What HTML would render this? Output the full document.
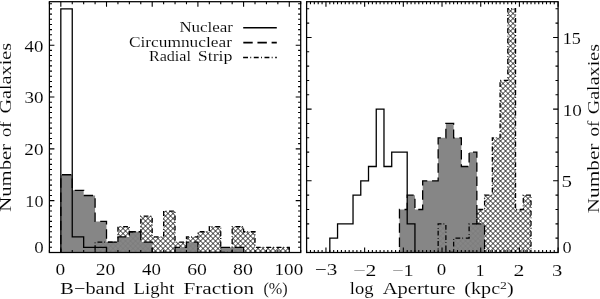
<!DOCTYPE html>
<html><head><meta charset="utf-8"><style>
html,body{margin:0;padding:0;background:#fff;}
body{width:600px;height:299px;overflow:hidden;font-family:"Liberation Serif",serif;}
svg{display:block;}
#w{width:600px;height:299px;will-change:transform;}
</style></head><body>
<div id="w"><svg width="600" height="299" viewBox="0 0 600 299">
<rect width="600" height="299" fill="#fff"/>
<defs>
<clipPath id="cl"><rect x="49.4" y="1.7" width="251.3" height="250.8"/></clipPath>
<clipPath id="cr"><rect x="306.6" y="1.7" width="251.5" height="250.8"/></clipPath>
</defs>
<clipPath id="clR"><path d="M95.09,252.5 L95.09,242.13 L106.51,242.13 L117.94,242.13 L117.94,226.59 L129.36,226.59 L129.36,231.77 L140.78,231.77 L140.78,216.22 L152.2,216.22 L152.2,236.95 L163.63,236.95 L163.63,211.04 L175.05,211.04 L175.05,242.13 L186.47,242.13 L186.47,236.95 L197.9,236.95 L197.9,231.77 L209.32,231.77 L209.32,226.59 L220.74,226.59 L220.74,252.5 L232.16,252.5 L232.16,226.59 L243.59,226.59 L243.59,231.77 L255.01,231.77 L255.01,247.32 L266.43,247.32 L277.85,247.32 L289.28,247.32 L289.28,252.5 Z"/></clipPath>
<g clip-path="url(#cl)"><g clip-path="url(#clR)"><rect x="94.09" y="210.04" width="196.19" height="43.46" fill="#fff"/><path d="M94.09,207.41 L290.28,11.22 M94.09,212.41 L290.28,16.22 M94.09,217.41 L290.28,21.22 M94.09,222.41 L290.28,26.22 M94.09,227.41 L290.28,31.22 M94.09,232.41 L290.28,36.22 M94.09,237.41 L290.28,41.22 M94.09,242.41 L290.28,46.22 M94.09,247.41 L290.28,51.22 M94.09,252.41 L290.28,56.22 M94.09,257.41 L290.28,61.22 M94.09,262.41 L290.28,66.22 M94.09,267.41 L290.28,71.22 M94.09,272.41 L290.28,76.22 M94.09,277.41 L290.28,81.22 M94.09,282.41 L290.28,86.22 M94.09,287.41 L290.28,91.22 M94.09,292.41 L290.28,96.22 M94.09,297.41 L290.28,101.22 M94.09,302.41 L290.28,106.22 M94.09,307.41 L290.28,111.22 M94.09,312.41 L290.28,116.22 M94.09,317.41 L290.28,121.22 M94.09,322.41 L290.28,126.22 M94.09,327.41 L290.28,131.22 M94.09,332.41 L290.28,136.22 M94.09,337.41 L290.28,141.22 M94.09,342.41 L290.28,146.22 M94.09,347.41 L290.28,151.22 M94.09,352.41 L290.28,156.22 M94.09,357.41 L290.28,161.22 M94.09,362.41 L290.28,166.22 M94.09,367.41 L290.28,171.22 M94.09,372.41 L290.28,176.22 M94.09,377.41 L290.28,181.22 M94.09,382.41 L290.28,186.22 M94.09,387.41 L290.28,191.22 M94.09,392.41 L290.28,196.22 M94.09,397.41 L290.28,201.22 M94.09,402.41 L290.28,206.22 M94.09,407.41 L290.28,211.22 M94.09,412.41 L290.28,216.22 M94.09,417.41 L290.28,221.22 M94.09,422.41 L290.28,226.22 M94.09,427.41 L290.28,231.22 M94.09,432.41 L290.28,236.22 M94.09,437.41 L290.28,241.22 M94.09,442.41 L290.28,246.22 M94.09,447.41 L290.28,251.22 M94.09,452.41 L290.28,256.22 M94.09,254.59 L290.28,450.78 M94.09,249.59 L290.28,445.78 M94.09,244.59 L290.28,440.78 M94.09,239.59 L290.28,435.78 M94.09,234.59 L290.28,430.78 M94.09,229.59 L290.28,425.78 M94.09,224.59 L290.28,420.78 M94.09,219.59 L290.28,415.78 M94.09,214.59 L290.28,410.78 M94.09,209.59 L290.28,405.78 M94.09,204.59 L290.28,400.78 M94.09,199.59 L290.28,395.78 M94.09,194.59 L290.28,390.78 M94.09,189.59 L290.28,385.78 M94.09,184.59 L290.28,380.78 M94.09,179.59 L290.28,375.78 M94.09,174.59 L290.28,370.78 M94.09,169.59 L290.28,365.78 M94.09,164.59 L290.28,360.78 M94.09,159.59 L290.28,355.78 M94.09,154.59 L290.28,350.78 M94.09,149.59 L290.28,345.78 M94.09,144.59 L290.28,340.78 M94.09,139.59 L290.28,335.78 M94.09,134.59 L290.28,330.78 M94.09,129.59 L290.28,325.78 M94.09,124.59 L290.28,320.78 M94.09,119.59 L290.28,315.78 M94.09,114.59 L290.28,310.78 M94.09,109.59 L290.28,305.78 M94.09,104.59 L290.28,300.78 M94.09,99.59 L290.28,295.78 M94.09,94.59 L290.28,290.78 M94.09,89.59 L290.28,285.78 M94.09,84.59 L290.28,280.78 M94.09,79.59 L290.28,275.78 M94.09,74.59 L290.28,270.78 M94.09,69.59 L290.28,265.78 M94.09,64.59 L290.28,260.78 M94.09,59.59 L290.28,255.78 M94.09,54.59 L290.28,250.78 M94.09,49.59 L290.28,245.78 M94.09,44.59 L290.28,240.78 M94.09,39.59 L290.28,235.78 M94.09,34.59 L290.28,230.78 M94.09,29.59 L290.28,225.78 M94.09,24.59 L290.28,220.78 M94.09,19.59 L290.28,215.78 M94.09,14.59 L290.28,210.78 M94.09,9.59 L290.28,205.78" stroke="#000" stroke-width="0.85" fill="none"/></g></g>
<clipPath id="crR"><path d="M438.15,252.5 L438.15,223.83 L445.89,223.83 L445.89,252.5 L453.63,252.5 L453.63,238.16 L461.37,238.16 L469.11,238.16 L469.11,223.83 L476.85,223.83 L476.85,209.49 L484.58,209.49 L484.58,195.15 L492.32,195.15 L492.32,137.8 L500.06,137.8 L500.06,80.46 L507.8,80.46 L507.8,8.77 L515.54,8.77 L515.54,209.49 L523.28,209.49 L523.28,195.15 L531.02,195.15 L531.02,252.5 Z"/></clipPath>
<g clip-path="url(#cr)"><g clip-path="url(#crR)"><rect x="437.15" y="7.77" width="94.86" height="245.73" fill="#fff"/><path d="M437.15,4.35 L532.02,-90.52 M437.15,9.35 L532.02,-85.52 M437.15,14.35 L532.02,-80.52 M437.15,19.35 L532.02,-75.52 M437.15,24.35 L532.02,-70.52 M437.15,29.35 L532.02,-65.52 M437.15,34.35 L532.02,-60.52 M437.15,39.35 L532.02,-55.52 M437.15,44.35 L532.02,-50.52 M437.15,49.35 L532.02,-45.52 M437.15,54.35 L532.02,-40.52 M437.15,59.35 L532.02,-35.52 M437.15,64.35 L532.02,-30.52 M437.15,69.35 L532.02,-25.52 M437.15,74.35 L532.02,-20.52 M437.15,79.35 L532.02,-15.52 M437.15,84.35 L532.02,-10.52 M437.15,89.35 L532.02,-5.52 M437.15,94.35 L532.02,-0.52 M437.15,99.35 L532.02,4.48 M437.15,104.35 L532.02,9.48 M437.15,109.35 L532.02,14.48 M437.15,114.35 L532.02,19.48 M437.15,119.35 L532.02,24.48 M437.15,124.35 L532.02,29.48 M437.15,129.35 L532.02,34.48 M437.15,134.35 L532.02,39.48 M437.15,139.35 L532.02,44.48 M437.15,144.35 L532.02,49.48 M437.15,149.35 L532.02,54.48 M437.15,154.35 L532.02,59.48 M437.15,159.35 L532.02,64.48 M437.15,164.35 L532.02,69.48 M437.15,169.35 L532.02,74.48 M437.15,174.35 L532.02,79.48 M437.15,179.35 L532.02,84.48 M437.15,184.35 L532.02,89.48 M437.15,189.35 L532.02,94.48 M437.15,194.35 L532.02,99.48 M437.15,199.35 L532.02,104.48 M437.15,204.35 L532.02,109.48 M437.15,209.35 L532.02,114.48 M437.15,214.35 L532.02,119.48 M437.15,219.35 L532.02,124.48 M437.15,224.35 L532.02,129.48 M437.15,229.35 L532.02,134.48 M437.15,234.35 L532.02,139.48 M437.15,239.35 L532.02,144.48 M437.15,244.35 L532.02,149.48 M437.15,249.35 L532.02,154.48 M437.15,254.35 L532.02,159.48 M437.15,259.35 L532.02,164.48 M437.15,264.35 L532.02,169.48 M437.15,269.35 L532.02,174.48 M437.15,274.35 L532.02,179.48 M437.15,279.35 L532.02,184.48 M437.15,284.35 L532.02,189.48 M437.15,289.35 L532.02,194.48 M437.15,294.35 L532.02,199.48 M437.15,299.35 L532.02,204.48 M437.15,304.35 L532.02,209.48 M437.15,309.35 L532.02,214.48 M437.15,314.35 L532.02,219.48 M437.15,319.35 L532.02,224.48 M437.15,324.35 L532.02,229.48 M437.15,329.35 L532.02,234.48 M437.15,334.35 L532.02,239.48 M437.15,339.35 L532.02,244.48 M437.15,344.35 L532.02,249.48 M437.15,349.35 L532.02,254.48 M437.15,257.65 L532.02,352.52 M437.15,252.65 L532.02,347.52 M437.15,247.65 L532.02,342.52 M437.15,242.65 L532.02,337.52 M437.15,237.65 L532.02,332.52 M437.15,232.65 L532.02,327.52 M437.15,227.65 L532.02,322.52 M437.15,222.65 L532.02,317.52 M437.15,217.65 L532.02,312.52 M437.15,212.65 L532.02,307.52 M437.15,207.65 L532.02,302.52 M437.15,202.65 L532.02,297.52 M437.15,197.65 L532.02,292.52 M437.15,192.65 L532.02,287.52 M437.15,187.65 L532.02,282.52 M437.15,182.65 L532.02,277.52 M437.15,177.65 L532.02,272.52 M437.15,172.65 L532.02,267.52 M437.15,167.65 L532.02,262.52 M437.15,162.65 L532.02,257.52 M437.15,157.65 L532.02,252.52 M437.15,152.65 L532.02,247.52 M437.15,147.65 L532.02,242.52 M437.15,142.65 L532.02,237.52 M437.15,137.65 L532.02,232.52 M437.15,132.65 L532.02,227.52 M437.15,127.65 L532.02,222.52 M437.15,122.65 L532.02,217.52 M437.15,117.65 L532.02,212.52 M437.15,112.65 L532.02,207.52 M437.15,107.65 L532.02,202.52 M437.15,102.65 L532.02,197.52 M437.15,97.65 L532.02,192.52 M437.15,92.65 L532.02,187.52 M437.15,87.65 L532.02,182.52 M437.15,82.65 L532.02,177.52 M437.15,77.65 L532.02,172.52 M437.15,72.65 L532.02,167.52 M437.15,67.65 L532.02,162.52 M437.15,62.65 L532.02,157.52 M437.15,57.65 L532.02,152.52 M437.15,52.65 L532.02,147.52 M437.15,47.65 L532.02,142.52 M437.15,42.65 L532.02,137.52 M437.15,37.65 L532.02,132.52 M437.15,32.65 L532.02,127.52 M437.15,27.65 L532.02,122.52 M437.15,22.65 L532.02,117.52 M437.15,17.65 L532.02,112.52 M437.15,12.65 L532.02,107.52 M437.15,7.65 L532.02,102.52 M437.15,2.65 L532.02,97.52 M437.15,-2.35 L532.02,92.52 M437.15,-7.35 L532.02,87.52 M437.15,-12.35 L532.02,82.52 M437.15,-17.35 L532.02,77.52 M437.15,-22.35 L532.02,72.52 M437.15,-27.35 L532.02,67.52 M437.15,-32.35 L532.02,62.52 M437.15,-37.35 L532.02,57.52 M437.15,-42.35 L532.02,52.52 M437.15,-47.35 L532.02,47.52 M437.15,-52.35 L532.02,42.52 M437.15,-57.35 L532.02,37.52 M437.15,-62.35 L532.02,32.52 M437.15,-67.35 L532.02,27.52 M437.15,-72.35 L532.02,22.52 M437.15,-77.35 L532.02,17.52 M437.15,-82.35 L532.02,12.52 M437.15,-87.35 L532.02,7.52" stroke="#000" stroke-width="0.85" fill="none"/></g></g>
<g>
<g clip-path="url(#cl)">
<path d="M60.82,252.5 L60.82,174.75 L72.25,174.75 L72.25,190.3 L83.67,190.3 L83.67,195.49 L95.09,195.49 L95.09,221.4 L106.51,221.4 L106.51,242.13 L117.94,242.13 L117.94,236.95 L129.36,236.95 L129.36,231.77 L140.78,231.77 L140.78,242.13 L152.2,242.13 L152.2,252.5 L163.63,252.5 L175.05,252.5 L175.05,247.32 L186.47,247.32 L186.47,242.13 L197.9,242.13 L197.9,252.5 L209.32,252.5 L220.74,252.5 L220.74,247.32 L232.16,247.32 L243.59,247.32 L243.59,252.5 Z" fill="#7f7f7f" fill-opacity="0.95"/>
<path d="M60.82,252.5 L60.82,174.75 L72.25,174.75 L72.25,190.3 L83.67,190.3 L83.67,195.49 L95.09,195.49 L95.09,221.4 L106.51,221.4 L106.51,242.13 L117.94,242.13 L117.94,236.95 L129.36,236.95 L129.36,231.77 L140.78,231.77 L140.78,242.13 L152.2,242.13 L152.2,252.5 L163.63,252.5 L175.05,252.5 L175.05,247.32 L186.47,247.32 L186.47,242.13 L197.9,242.13 L197.9,252.5 L209.32,252.5 L220.74,252.5 L220.74,247.32 L232.16,247.32 L243.59,247.32 L243.59,252.5" fill="none" stroke="#000" stroke-width="1.3" stroke-dasharray="9.4 4.75" stroke-dashoffset="6.0"/>
<path d="M95.09,252.5 L95.09,242.13 L106.51,242.13 L117.94,242.13 L117.94,226.59 L129.36,226.59 L129.36,231.77 L140.78,231.77 L140.78,216.22 L152.2,216.22 L152.2,236.95 L163.63,236.95 L163.63,211.04 L175.05,211.04 L175.05,242.13 L186.47,242.13 L186.47,236.95 L197.9,236.95 L197.9,231.77 L209.32,231.77 L209.32,226.59 L220.74,226.59 L220.74,252.5 L232.16,252.5 L232.16,226.59 L243.59,226.59 L243.59,231.77 L255.01,231.77 L255.01,247.32 L266.43,247.32 L277.85,247.32 L289.28,247.32 L289.28,252.5" fill="none" stroke="#000" stroke-width="1.3" stroke-dasharray="4.8 2.0 0.8 2.7" stroke-dashoffset="7.82"/>
<path d="M60.82,252.5 L60.82,8.9 L72.25,8.9 L72.25,236.95 L83.67,236.95 L83.67,247.32 L95.09,247.32 L106.51,247.32 L106.51,252.5" fill="none" stroke="#000" stroke-width="1.3"/>
</g>
<g clip-path="url(#cr)">
<path d="M399.46,252.5 L399.46,209.49 L407.2,209.49 L407.2,195.15 L414.94,195.15 L414.94,209.49 L422.68,209.49 L422.68,180.81 L430.42,180.81 L438.15,180.81 L438.15,137.8 L445.89,137.8 L445.89,123.47 L453.63,123.47 L453.63,137.8 L461.37,137.8 L461.37,166.48 L469.11,166.48 L469.11,152.14 L476.85,152.14 L476.85,223.83 L484.58,223.83 L484.58,252.5 Z" fill="#7f7f7f" fill-opacity="0.95"/>
<path d="M399.46,252.5 L399.46,209.49 L407.2,209.49 L407.2,195.15 L414.94,195.15 L414.94,209.49 L422.68,209.49 L422.68,180.81 L430.42,180.81 L438.15,180.81 L438.15,137.8 L445.89,137.8 L445.89,123.47 L453.63,123.47 L453.63,137.8 L461.37,137.8 L461.37,166.48 L469.11,166.48 L469.11,152.14 L476.85,152.14 L476.85,223.83 L484.58,223.83 L484.58,252.5" fill="none" stroke="#000" stroke-width="1.3" stroke-dasharray="9.4 4.75" stroke-dashoffset="8.55"/>
<path d="M438.15,252.5 L438.15,223.83 L445.89,223.83 L445.89,252.5 L453.63,252.5 L453.63,238.16 L461.37,238.16 L469.11,238.16 L469.11,223.83 L476.85,223.83 L476.85,209.49 L484.58,209.49 L484.58,195.15 L492.32,195.15 L492.32,137.8 L500.06,137.8 L500.06,80.46 L507.8,80.46 L507.8,8.77 L515.54,8.77 L515.54,209.49 L523.28,209.49 L523.28,195.15 L531.02,195.15 L531.02,252.5" fill="none" stroke="#000" stroke-width="1.3" stroke-dasharray="4.8 2.0 0.8 2.7" stroke-dashoffset="3.7"/>
<path d="M329.82,252.5 L329.82,238.16 L337.55,238.16 L337.55,223.83 L345.29,223.83 L353.03,223.83 L353.03,195.15 L360.77,195.15 L360.77,180.81 L368.51,180.81 L368.51,166.48 L376.25,166.48 L376.25,109.13 L383.98,109.13 L383.98,166.48 L391.72,166.48 L391.72,152.14 L399.46,152.14 L407.2,152.14 L407.2,223.83 L414.94,223.83 L414.94,252.5" fill="none" stroke="#000" stroke-width="1.3"/>
</g>
<path d="M49.4,252.5 v-2.6 M49.4,1.7 v2.6 M60.82,252.5 v-5.0 M60.82,1.7 v5.0 M72.25,252.5 v-2.6 M72.25,1.7 v2.6 M83.67,252.5 v-2.6 M83.67,1.7 v2.6 M95.09,252.5 v-2.6 M95.09,1.7 v2.6 M106.51,252.5 v-5.0 M106.51,1.7 v5.0 M117.94,252.5 v-2.6 M117.94,1.7 v2.6 M129.36,252.5 v-2.6 M129.36,1.7 v2.6 M140.78,252.5 v-2.6 M140.78,1.7 v2.6 M152.2,252.5 v-5.0 M152.2,1.7 v5.0 M163.63,252.5 v-2.6 M163.63,1.7 v2.6 M175.05,252.5 v-2.6 M175.05,1.7 v2.6 M186.47,252.5 v-2.6 M186.47,1.7 v2.6 M197.9,252.5 v-5.0 M197.9,1.7 v5.0 M209.32,252.5 v-2.6 M209.32,1.7 v2.6 M220.74,252.5 v-2.6 M220.74,1.7 v2.6 M232.16,252.5 v-2.6 M232.16,1.7 v2.6 M243.59,252.5 v-5.0 M243.59,1.7 v5.0 M255.01,252.5 v-2.6 M255.01,1.7 v2.6 M266.43,252.5 v-2.6 M266.43,1.7 v2.6 M277.85,252.5 v-2.6 M277.85,1.7 v2.6 M289.28,252.5 v-5.0 M289.28,1.7 v5.0 M300.7,252.5 v-2.6 M300.7,1.7 v2.6 M49.4,252.5 h5.0 M300.7,252.5 h-5.0 M49.4,247.32 h2.6 M300.7,247.32 h-2.6 M49.4,242.13 h2.6 M300.7,242.13 h-2.6 M49.4,236.95 h2.6 M300.7,236.95 h-2.6 M49.4,231.77 h2.6 M300.7,231.77 h-2.6 M49.4,226.59 h2.6 M300.7,226.59 h-2.6 M49.4,221.4 h2.6 M300.7,221.4 h-2.6 M49.4,216.22 h2.6 M300.7,216.22 h-2.6 M49.4,211.04 h2.6 M300.7,211.04 h-2.6 M49.4,205.85 h2.6 M300.7,205.85 h-2.6 M49.4,200.67 h5.0 M300.7,200.67 h-5.0 M49.4,195.49 h2.6 M300.7,195.49 h-2.6 M49.4,190.3 h2.6 M300.7,190.3 h-2.6 M49.4,185.12 h2.6 M300.7,185.12 h-2.6 M49.4,179.94 h2.6 M300.7,179.94 h-2.6 M49.4,174.75 h2.6 M300.7,174.75 h-2.6 M49.4,169.57 h2.6 M300.7,169.57 h-2.6 M49.4,164.39 h2.6 M300.7,164.39 h-2.6 M49.4,159.21 h2.6 M300.7,159.21 h-2.6 M49.4,154.02 h2.6 M300.7,154.02 h-2.6 M49.4,148.84 h5.0 M300.7,148.84 h-5.0 M49.4,143.66 h2.6 M300.7,143.66 h-2.6 M49.4,138.47 h2.6 M300.7,138.47 h-2.6 M49.4,133.29 h2.6 M300.7,133.29 h-2.6 M49.4,128.11 h2.6 M300.7,128.11 h-2.6 M49.4,122.93 h2.6 M300.7,122.93 h-2.6 M49.4,117.74 h2.6 M300.7,117.74 h-2.6 M49.4,112.56 h2.6 M300.7,112.56 h-2.6 M49.4,107.38 h2.6 M300.7,107.38 h-2.6 M49.4,102.19 h2.6 M300.7,102.19 h-2.6 M49.4,97.01 h5.0 M300.7,97.01 h-5.0 M49.4,91.83 h2.6 M300.7,91.83 h-2.6 M49.4,86.64 h2.6 M300.7,86.64 h-2.6 M49.4,81.46 h2.6 M300.7,81.46 h-2.6 M49.4,76.28 h2.6 M300.7,76.28 h-2.6 M49.4,71.09 h2.6 M300.7,71.09 h-2.6 M49.4,65.91 h2.6 M300.7,65.91 h-2.6 M49.4,60.73 h2.6 M300.7,60.73 h-2.6 M49.4,55.55 h2.6 M300.7,55.55 h-2.6 M49.4,50.36 h2.6 M300.7,50.36 h-2.6 M49.4,45.18 h5.0 M300.7,45.18 h-5.0 M49.4,40 h2.6 M300.7,40 h-2.6 M49.4,34.81 h2.6 M300.7,34.81 h-2.6 M49.4,29.63 h2.6 M300.7,29.63 h-2.6 M49.4,24.45 h2.6 M300.7,24.45 h-2.6 M49.4,19.27 h2.6 M300.7,19.27 h-2.6 M49.4,14.08 h2.6 M300.7,14.08 h-2.6 M49.4,8.9 h2.6 M300.7,8.9 h-2.6 M49.4,3.72 h2.6 M300.7,3.72 h-2.6" fill="none" stroke="#000" stroke-width="1.1"/>
<rect x="49.4" y="1.7" width="251.3" height="250.8" fill="none" stroke="#000" stroke-width="1.25"/>
<path d="M306.6,252.5 v-2.6 M306.6,1.7 v2.6 M310.47,252.5 v-2.6 M310.47,1.7 v2.6 M314.34,252.5 v-2.6 M314.34,1.7 v2.6 M318.21,252.5 v-2.6 M318.21,1.7 v2.6 M322.08,252.5 v-2.6 M322.08,1.7 v2.6 M325.95,252.5 v-5.0 M325.95,1.7 v5.0 M329.82,252.5 v-2.6 M329.82,1.7 v2.6 M333.68,252.5 v-2.6 M333.68,1.7 v2.6 M337.55,252.5 v-2.6 M337.55,1.7 v2.6 M341.42,252.5 v-2.6 M341.42,1.7 v2.6 M345.29,252.5 v-2.6 M345.29,1.7 v2.6 M349.16,252.5 v-2.6 M349.16,1.7 v2.6 M353.03,252.5 v-2.6 M353.03,1.7 v2.6 M356.9,252.5 v-2.6 M356.9,1.7 v2.6 M360.77,252.5 v-2.6 M360.77,1.7 v2.6 M364.64,252.5 v-5.0 M364.64,1.7 v5.0 M368.51,252.5 v-2.6 M368.51,1.7 v2.6 M372.38,252.5 v-2.6 M372.38,1.7 v2.6 M376.25,252.5 v-2.6 M376.25,1.7 v2.6 M380.12,252.5 v-2.6 M380.12,1.7 v2.6 M383.98,252.5 v-2.6 M383.98,1.7 v2.6 M387.85,252.5 v-2.6 M387.85,1.7 v2.6 M391.72,252.5 v-2.6 M391.72,1.7 v2.6 M395.59,252.5 v-2.6 M395.59,1.7 v2.6 M399.46,252.5 v-2.6 M399.46,1.7 v2.6 M403.33,252.5 v-5.0 M403.33,1.7 v5.0 M407.2,252.5 v-2.6 M407.2,1.7 v2.6 M411.07,252.5 v-2.6 M411.07,1.7 v2.6 M414.94,252.5 v-2.6 M414.94,1.7 v2.6 M418.81,252.5 v-2.6 M418.81,1.7 v2.6 M422.68,252.5 v-2.6 M422.68,1.7 v2.6 M426.55,252.5 v-2.6 M426.55,1.7 v2.6 M430.42,252.5 v-2.6 M430.42,1.7 v2.6 M434.28,252.5 v-2.6 M434.28,1.7 v2.6 M438.15,252.5 v-2.6 M438.15,1.7 v2.6 M442.02,252.5 v-5.0 M442.02,1.7 v5.0 M445.89,252.5 v-2.6 M445.89,1.7 v2.6 M449.76,252.5 v-2.6 M449.76,1.7 v2.6 M453.63,252.5 v-2.6 M453.63,1.7 v2.6 M457.5,252.5 v-2.6 M457.5,1.7 v2.6 M461.37,252.5 v-2.6 M461.37,1.7 v2.6 M465.24,252.5 v-2.6 M465.24,1.7 v2.6 M469.11,252.5 v-2.6 M469.11,1.7 v2.6 M472.98,252.5 v-2.6 M472.98,1.7 v2.6 M476.85,252.5 v-2.6 M476.85,1.7 v2.6 M480.72,252.5 v-5.0 M480.72,1.7 v5.0 M484.58,252.5 v-2.6 M484.58,1.7 v2.6 M488.45,252.5 v-2.6 M488.45,1.7 v2.6 M492.32,252.5 v-2.6 M492.32,1.7 v2.6 M496.19,252.5 v-2.6 M496.19,1.7 v2.6 M500.06,252.5 v-2.6 M500.06,1.7 v2.6 M503.93,252.5 v-2.6 M503.93,1.7 v2.6 M507.8,252.5 v-2.6 M507.8,1.7 v2.6 M511.67,252.5 v-2.6 M511.67,1.7 v2.6 M515.54,252.5 v-2.6 M515.54,1.7 v2.6 M519.41,252.5 v-5.0 M519.41,1.7 v5.0 M523.28,252.5 v-2.6 M523.28,1.7 v2.6 M527.15,252.5 v-2.6 M527.15,1.7 v2.6 M531.02,252.5 v-2.6 M531.02,1.7 v2.6 M534.88,252.5 v-2.6 M534.88,1.7 v2.6 M538.75,252.5 v-2.6 M538.75,1.7 v2.6 M542.62,252.5 v-2.6 M542.62,1.7 v2.6 M546.49,252.5 v-2.6 M546.49,1.7 v2.6 M550.36,252.5 v-2.6 M550.36,1.7 v2.6 M554.23,252.5 v-2.6 M554.23,1.7 v2.6 M558.1,252.5 v-5.0 M558.1,1.7 v5.0 M306.6,252.5 h5.0 M558.1,252.5 h-5.0 M306.6,238.16 h2.6 M558.1,238.16 h-2.6 M306.6,223.83 h2.6 M558.1,223.83 h-2.6 M306.6,209.49 h2.6 M558.1,209.49 h-2.6 M306.6,195.15 h2.6 M558.1,195.15 h-2.6 M306.6,180.81 h5.0 M558.1,180.81 h-5.0 M306.6,166.48 h2.6 M558.1,166.48 h-2.6 M306.6,152.14 h2.6 M558.1,152.14 h-2.6 M306.6,137.8 h2.6 M558.1,137.8 h-2.6 M306.6,123.47 h2.6 M558.1,123.47 h-2.6 M306.6,109.13 h5.0 M558.1,109.13 h-5.0 M306.6,94.79 h2.6 M558.1,94.79 h-2.6 M306.6,80.46 h2.6 M558.1,80.46 h-2.6 M306.6,66.12 h2.6 M558.1,66.12 h-2.6 M306.6,51.78 h2.6 M558.1,51.78 h-2.6 M306.6,37.44 h5.0 M558.1,37.44 h-5.0 M306.6,23.11 h2.6 M558.1,23.11 h-2.6 M306.6,8.77 h2.6 M558.1,8.77 h-2.6" fill="none" stroke="#000" stroke-width="1.1"/>
<rect x="306.6" y="1.7" width="251.5" height="250.8" fill="none" stroke="#000" stroke-width="1.25"/>
<path d="M243.2,27.8 H276.8" stroke="#000" stroke-width="1.6"/>
<path d="M243.3,42.6 H276.8" stroke="#000" stroke-width="1.6" stroke-dasharray="9.4 4.75"/>
<path d="M243.1,57.5 H276.8" stroke="#000" stroke-width="1.6" stroke-dasharray="4.9 2.3 0.9 2.6"/>
<g font-family="Liberation Serif, serif" fill="#000" stroke="#fff" stroke-width="0.1">
<text transform="translate(34.31,252.93) scale(1.1857,1.0884)" font-size="16">0</text>
<text transform="translate(25.3,207.33) scale(1.1357,1.0791)" font-size="16">10</text>
<text transform="translate(24.3,155.14) scale(1.2000,1.0512)" font-size="16">20</text>
<text transform="translate(24.41,103.33) scale(1.1932,1.0884)" font-size="16">30</text>
<text transform="translate(24.6,51.53) scale(1.1803,1.0605)" font-size="16">40</text>
<text transform="translate(562.43,252.64) scale(1.1429,1.0326)" font-size="16">0</text>
<text transform="translate(561.49,187.04) scale(1.3120,1.0326)" font-size="16">5</text>
<text transform="translate(562.7,115.83) scale(1.2000,1.0791)" font-size="16">10</text>
<text transform="translate(562.8,43.83) scale(1.1345,1.0791)" font-size="16">15</text>
<text transform="translate(55.49,275.24) scale(1.2143,1.0326)" font-size="16">0</text>
<text transform="translate(95.78,275.24) scale(1.2271,1.0326)" font-size="16">20</text>
<text transform="translate(142,275.34) scale(1.1803,1.0419)" font-size="16">40</text>
<text transform="translate(187.17,275.34) scale(1.2339,1.0419)" font-size="16">60</text>
<text transform="translate(233.08,275.34) scale(1.2400,1.0419)" font-size="16">80</text>
<text transform="translate(274.51,275.34) scale(1.1955,1.0419)" font-size="16">100</text>
<text transform="translate(314.7,275.35) scale(1.3290,1.0140)" font-size="16">−3</text>
<text transform="translate(353.28,275.6) scale(1.3574,1.0381)" font-size="16">−2</text>
<text transform="translate(392.05,275.6) scale(1.2656,1.0381)" font-size="16">−1</text>
<text transform="translate(436.81,275.35) scale(1.1857,1.0140)" font-size="16">0</text>
<text transform="translate(475.86,275.8) scale(1.0909,1.0762)" font-size="16">1</text>
<text transform="translate(513.48,275.8) scale(1.3600,1.0762)" font-size="16">2</text>
<text transform="translate(552.03,275.54) scale(1.2923,1.0512)" font-size="16">3</text>
<text transform="translate(60.36,294.4) scale(1.2740,1.0000)" font-size="16">B−band</text>
<text transform="translate(133.61,294.4) scale(1.1765,1.0000)" font-size="16">Light</text>
<text transform="translate(183.54,294.4) scale(1.3238,1.0000)" font-size="16">Fraction</text>
<text transform="translate(263.44,294.4) scale(1.0133,1.0000)" font-size="16">(%)</text>
<text transform="translate(349.81,294.4) scale(1.1595,1.0000)" font-size="16">log</text>
<text transform="translate(382.68,294.4) scale(1.2857,1.0000)" font-size="16">Aperture</text>
<text transform="translate(464.36,294.4) scale(1.2556,1.0000)" font-size="16">(kpc<tspan font-size="11" dy="-5.8">2</tspan><tspan dy="5.8">)</tspan></text>
<text transform="translate(179.38,31.5) scale(1.2471,1.0000)" font-size="13.6">Nuclear</text>
<text transform="translate(128.96,46.8) scale(1.2748,1.0000)" font-size="13.6">Circumnuclear</text>
<text transform="translate(148.91,60.8) scale(1.1856,1.0000)" font-size="13.6">Radial</text>
<text transform="translate(197.68,60.8) scale(1.3200,1.0000)" font-size="13.6">Strip</text>
<text transform="translate(11.2,113.55) rotate(-90) scale(1.2621,1.0300)" font-size="16">Galaxies</text>
<text transform="translate(11.2,137.08) rotate(-90) scale(1.1529,1.0300)" font-size="16">of</text>
<text transform="translate(11.2,211.65) rotate(-90) scale(1.2908,1.0300)" font-size="16">Number</text>
<text transform="translate(599.1,114.34) rotate(-90) scale(1.2584,1.0300)" font-size="16">Galaxies</text>
<text transform="translate(599.1,136.59) rotate(-90) scale(1.1843,1.0300)" font-size="16">of</text>
<text transform="translate(599.1,213.26) rotate(-90) scale(1.3295,1.0300)" font-size="16">Number</text>
</g>
</g>
</svg></div>
</body></html>
